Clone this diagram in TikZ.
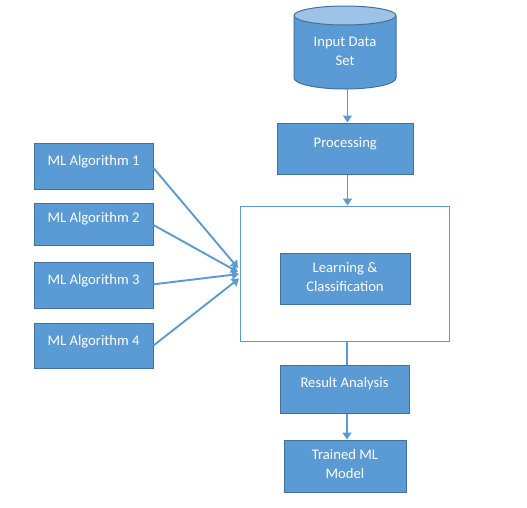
\documentclass[tikz,border=0pt]{standalone}
\usepackage{fontspec}
\setmainfont{Carlito}
\usetikzlibrary{arrows.meta}
\definecolor{boxfill}{HTML}{5B9BD5}
\definecolor{boxline}{HTML}{41719C}
\definecolor{toplight}{HTML}{9DC3E6}
\begin{document}
\begin{tikzpicture}[x=1pt,y=-1pt,
  box/.style={draw=boxline, fill=boxfill, line width=1pt, inner sep=0pt},
  txt/.style={text=white, font=\fontsize{14.67}{19}\selectfont, align=center, inner sep=0pt, anchor=base},
  conn/.style={draw=boxfill, line width=1.9pt, -{Triangle[length=7pt,width=9pt]}},
  plain/.style={draw=boxfill, line width=1.9pt}]
\useasboundingbox (0,0) rectangle (527,507);
% cylinder
\fill[boxfill] (294,16) -- (294,78) arc[start angle=180, end angle=0, x radius=51, y radius=11] -- (396,16) -- cycle;
\draw[boxline, line width=1pt] (294,16) -- (294,78) arc[start angle=180, end angle=0, x radius=51, y radius=11] -- (396,16);
\filldraw[fill=toplight, draw=boxline, line width=1pt] (345,15.5) ellipse[x radius=51, y radius=9.5];
\node[inner sep=0pt, minimum width=102pt, minimum height=83pt] (inp) at (345,47.5) {};
\node[txt] (inpt) at (345,65) {Input Data\\Set};
% main column
\node[box, minimum width=136pt, minimum height=51pt] (proc) at (345.3,148.5) {};
\node[txt] (proct) at (345.3,147.5) {Processing};
\node[draw=boxfill, line width=1pt, fill=white, minimum width=209pt, minimum height=135pt, inner sep=0pt] (outer) at (344.5,273.5) {};
\node[box, minimum width=130pt, minimum height=51pt] (learn) at (345,278.5) {};
\node[txt] (learnt) at (345,291.7) {Learning \&\\Classification};
\node[box, minimum width=129pt, minimum height=48pt] (res) at (344.5,389) {};
\node[txt] (rest) at (344.5,387.5) {Result Analysis};
\node[box, minimum width=122pt, minimum height=52pt] (model) at (345,466) {};
\node[txt] (modelt) at (345,478) {Trained ML\\Model};
% algorithms
\node[box, minimum width=119pt, minimum height=46pt] (a1) at (93.5,166) {};
\node[txt] (a1t) at (93.5,165) {ML Algorithm 1};
\node[box, minimum width=119pt, minimum height=42pt] (a2) at (93.5,224) {};
\node[txt] (a2t) at (93.5,222.5) {ML Algorithm 2};
\node[box, minimum width=119pt, minimum height=46pt] (a3) at (93.5,285.3) {};
\node[txt] (a3t) at (93.5,284) {ML Algorithm 3};
\node[box, minimum width=119pt, minimum height=45pt] (a4) at (93.5,345.5) {};
\node[txt] (a4t) at (93.5,345) {ML Algorithm 4};
% target points on the outer box
\coordinate (t1) at (238,268);
\coordinate (t2) at (238,272);
\coordinate (t3) at (239,274);
\coordinate (t4) at (239,278.5);
% connectors
\draw[conn] ([xshift=2.5pt]inp.south) -- ([xshift=2.2pt]proc.north);
\draw[conn] ([xshift=2.2pt]proc.south) -- ([xshift=3pt]outer.north);
\draw[plain] ([xshift=2.5pt]outer.south) -- ([xshift=2.5pt]res.north);
\draw[conn] ([xshift=2.5pt]res.south) -- ([xshift=2pt]model.north);
\draw[conn] ([yshift=-2pt]a1.east) -- (t1);
\draw[conn] ([yshift=-1pt]a2.east) -- (t2);
\draw[conn] ([yshift=1pt]a3.east) -- (t3);
\draw[conn] (a4.east) -- (t4);
\end{tikzpicture}
\end{document}
